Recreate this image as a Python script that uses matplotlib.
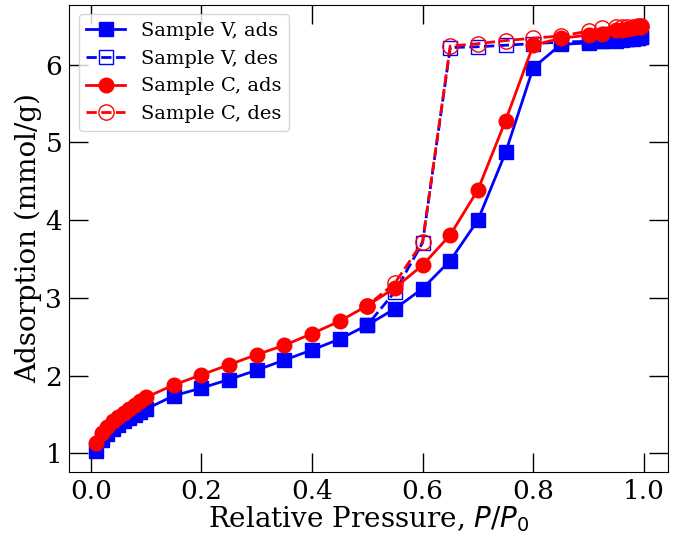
import matplotlib
matplotlib.use('Agg')
import matplotlib.pyplot as plt

# relative pressure points
p_ads = [0.01, 0.02, 0.03, 0.04, 0.05, 0.06, 0.07, 0.08, 0.09, 0.10,
         0.15, 0.20, 0.25, 0.30, 0.35, 0.40, 0.45, 0.50, 0.55, 0.60,
         0.65, 0.70, 0.75, 0.80, 0.85, 0.90, 0.925, 0.95, 0.96, 0.97,
         0.98, 0.99, 0.995]
p_des = [0.995, 0.99, 0.98, 0.97, 0.96, 0.95, 0.925, 0.90, 0.85, 0.80,
         0.75, 0.70, 0.65, 0.60, 0.55, 0.50]

# Sample V
v_ads = [1.03, 1.17, 1.25, 1.31, 1.36, 1.41, 1.45, 1.49, 1.53, 1.57,
         1.74, 1.84, 1.95, 2.07, 2.20, 2.33, 2.47, 2.65, 2.86, 3.12,
         3.48, 4.00, 4.87, 5.96, 6.26, 6.28, 6.30, 6.31, 6.32, 6.33,
         6.33, 6.34, 6.35]
v_des = [6.35, 6.34, 6.34, 6.33, 6.33, 6.32, 6.31, 6.30, 6.29, 6.27,
         6.25, 6.23, 6.22, 3.71, 3.08, 2.65]

# Sample C
c_ads = [1.13, 1.26, 1.34, 1.41, 1.47, 1.52, 1.57, 1.62, 1.67, 1.72,
         1.88, 2.01, 2.14, 2.27, 2.39, 2.54, 2.70, 2.90, 3.13, 3.42,
         3.81, 4.39, 5.28, 6.25, 6.34, 6.38, 6.40, 6.44, 6.45, 6.46,
         6.47, 6.48, 6.49]
c_des = [6.50, 6.50, 6.49, 6.49, 6.48, 6.48, 6.47, 6.43, 6.37, 6.34,
         6.31, 6.27, 6.24, 3.72, 3.19, 2.90]

plt.rcParams['font.family'] = 'serif'

fig = plt.figure(figsize=(6.79, 5.37), dpi=100)
ax = fig.add_subplot(111)

ax.plot(p_ads, v_ads, color='blue', marker='s', markersize=9.5, linewidth=2,
        label='Sample V, ads')
ax.plot(p_des, v_des, color='blue', marker='s', markersize=10, linewidth=2,
        linestyle='--', markerfacecolor='none', markeredgewidth=1,
        label='Sample V, des')
ax.plot(p_ads, c_ads, color='red', marker='o', markersize=10.5, linewidth=2,
        label='Sample C, ads')
ax.plot(p_des, c_des, color='red', marker='o', markersize=11, linewidth=2,
        linestyle='--', markerfacecolor='none', markeredgewidth=1,
        label='Sample C, des')

ax.set_xticks([0.0, 0.2, 0.4, 0.6, 0.8, 1.0])
ax.set_yticks([1, 2, 3, 4, 5, 6])
ax.tick_params(direction='in', top=True, right=True, length=14, width=1,
               labelsize=19, pad=5)
ax.set_xlabel('Relative Pressure, $P/P_0$', fontsize=20, labelpad=0)
ax.set_ylabel('Adsorption (mmol/g)', fontsize=20, labelpad=2)
ax.legend(loc='upper left', fontsize=14)

fig.subplots_adjust(left=0.1016, right=0.9843, bottom=0.1205, top=0.9916)
fig.savefig('out.png', dpi=100)
